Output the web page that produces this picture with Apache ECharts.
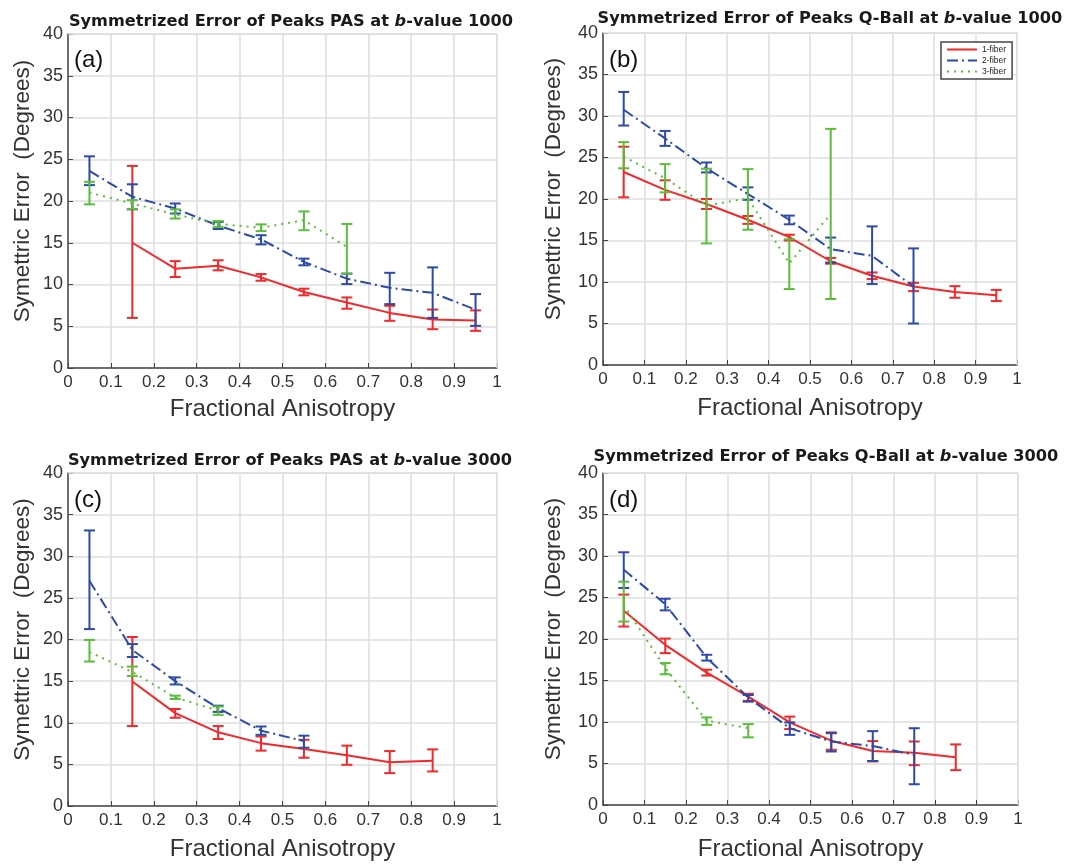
<!DOCTYPE html>
<html>
<head>
<meta charset="utf-8">
<script src="https://cdn.jsdelivr.net/npm/echarts@6/dist/echarts.min.js"></script>
<style>html,body{margin:0;padding:0;background:#fff;}#c{width:1073px;height:864px;}</style>
</head>
<body>
<div id="c"></div>
<script>
// ---- Data ----
const faValues = [0.05, 0.15, 0.25, 0.35, 0.45, 0.55, 0.65, 0.75, 0.85, 0.95];
const xTicks = [0, 0.1, 0.2, 0.3, 0.4, 0.5, 0.6, 0.7, 0.8, 0.9, 1];
const yTicks = [0, 5, 10, 15, 20, 25, 30, 35, 40];
const seriesNames = ['1-fiber', '2-fiber', '3-fiber'];
const panelTitles = [
  ['Symmetrized Error of Peaks PAS at ', 'b', '-value 1000'],
  ['Symmetrized Error of Peaks Q-Ball at ', 'b', '-value 1000'],
  ['Symmetrized Error of Peaks PAS at ', 'b', '-value 3000'],
  ['Symmetrized Error of Peaks Q-Ball at ', 'b', '-value 3000']
];
const panelLetters = ['(a)', '(b)', '(c)', '(d)'];
const xAxisTitle = 'Fractional Anisotropy';
const yAxisTitle = 'Symettric Error  (Degrees)';

// each entry: [FA, mean, lower, upper]
// (a) PAS b=1000
const a1 = [[0.15,15.0,6.0,24.2],[0.25,11.9,10.9,12.8],[0.35,12.25,11.7,12.9],[0.45,10.85,10.45,11.25],[0.55,9.1,8.7,9.5],[0.65,7.85,7.1,8.45],[0.75,6.6,5.65,7.45],[0.85,5.8,4.65,7.0],[0.95,5.7,4.45,6.9]];
const a2 = [[0.05,23.6,21.9,25.35],[0.15,20.5,19.0,22.0],[0.25,19.1,18.5,19.7],[0.35,17.05,16.65,17.5],[0.45,15.4,14.8,15.9],[0.55,12.7,12.3,13.1],[0.65,10.7,10.05,11.3],[0.75,9.6,7.65,11.4],[0.85,9.0,6.0,12.05],[0.95,7.0,5.05,8.85]];
const a3 = [[0.05,21.0,19.6,22.3],[0.15,19.7,19.05,20.1],[0.25,18.4,17.9,19.0],[0.35,17.25,16.9,17.6],[0.45,16.8,16.4,17.2],[0.55,17.7,16.5,18.75],[0.65,14.5,11.3,17.25]];
// (b) Q-Ball b=1000
const b1 = [[0.05,23.25,20.2,26.3],[0.15,21.1,19.9,22.25],[0.25,19.4,18.8,20.0],[0.35,17.5,17.0,17.95],[0.45,15.4,15.0,15.7],[0.55,12.5,12.2,12.9],[0.65,10.75,10.35,11.15],[0.75,9.45,8.9,9.9],[0.85,8.8,8.1,9.5],[0.95,8.4,7.7,9.05]];
const b2 = [[0.05,30.75,28.85,32.9],[0.15,27.3,26.4,28.2],[0.25,23.7,23.2,24.4],[0.35,20.6,19.9,21.4],[0.45,17.5,16.95,18.0],[0.55,13.95,12.35,15.35],[0.65,13.15,9.75,16.7],[0.75,9.45,5.0,14.05]];
const b3 = [[0.05,25.1,23.7,26.85],[0.15,22.5,20.8,24.2],[0.25,19.2,14.65,23.65],[0.35,20.1,16.3,23.6],[0.45,12.25,9.15,15.15],[0.55,18.2,7.95,28.45]];
// (c) PAS b=3000
const c1 = [[0.15,14.95,9.6,20.3],[0.25,11.15,10.6,11.65],[0.35,8.85,8.05,9.6],[0.45,7.55,6.65,8.35],[0.55,6.85,5.8,7.95],[0.65,6.1,4.95,7.25],[0.75,5.25,3.95,6.6],[0.85,5.45,4.15,6.8]];
const c2 = [[0.05,27.05,21.25,33.1],[0.15,18.75,17.9,19.45],[0.25,15.0,14.6,15.45],[0.35,11.75,11.3,12.05],[0.45,9.05,8.55,9.55],[0.55,7.8,7.0,8.45]];
const c3 = [[0.05,18.5,17.35,19.95],[0.15,16.1,15.6,16.75],[0.25,13.05,12.85,13.25],[0.35,11.45,10.95,11.95]];
// (d) Q-Ball b=3000
const d1 = [[0.05,23.4,21.5,25.35],[0.15,19.3,18.3,20.05],[0.25,15.95,15.6,16.3],[0.35,13.05,12.55,13.4],[0.45,9.95,9.15,10.65],[0.55,7.75,6.65,8.75],[0.65,6.5,5.25,7.7],[0.75,6.3,4.8,7.65],[0.85,5.75,4.2,7.3]];
const d2 = [[0.05,28.35,26.15,30.45],[0.15,24.2,23.45,24.85],[0.25,17.75,17.4,18.1],[0.35,12.95,12.45,13.25],[0.45,9.25,8.45,9.95],[0.55,7.65,6.45,8.65],[0.65,7.1,5.3,8.9],[0.75,6.05,2.5,9.25]];
const d3 = [[0.05,24.1,22.1,26.9],[0.15,16.5,15.75,17.1],[0.25,10.15,9.65,10.55],[0.35,9.25,8.15,9.75]];

const panelData = [[a1,a2,a3],[b1,b2,b3],[c1,c2,c3],[d1,d2,d3]];

// ---- Styling / layout ----
const colors = ['#f2282a', '#2c4aa6', '#5cbd3c'];
const lineTypes = ['solid', [11, 4, 2, 4], [2, 5]];
const grids = [
  {left: 68, top: 34, width: 429, height: 334},
  {left: 603, top: 33, width: 414, height: 332},
  {left: 68, top: 473, width: 429, height: 333},
  {left: 603, top: 473, width: 415, height: 332}
];
const titlePos = [[286, 9], [825, 6], [285, 448], [821, 444]];
const letterPos = [[69, 43], [604, 43], [69, 483], [604, 483]];
const xNameGap = [29, 31, 31, 32];
const yNameGap = [34, 38, 34, 38];
const FONT = '"Liberation Sans", Arial, Helvetica, sans-serif';
const TFONT = '"DejaVu Sans", "Liberation Sans", Arial, sans-serif';

const option = {
  backgroundColor: '#fff',
  animation: false,
  title: [],
  grid: grids,
  xAxis: [],
  yAxis: [],
  series: [],
  legend: {
    data: seriesNames,
    left: 941, top: 42,
    orient: 'vertical',
    itemWidth: 30, itemHeight: 8, itemGap: 2,
    padding: [3, 6, 3, 5],
    borderColor: '#444', borderWidth: 1.5,
    backgroundColor: '#fff',
    itemStyle: {opacity: 0},
    textStyle: {fontSize: 8.5, color: '#222', fontFamily: FONT},
    selectedMode: false
  }
};

panelTitles.forEach((t, i) => {
  option.title.push({
    text: '{n|' + t[0] + '}{i|' + t[1] + '}{n|' + t[2] + '}',
    left: titlePos[i][0], top: titlePos[i][1], textAlign: 'center',
    textStyle: {
      rich: {
        n: {fontSize: 16.2, fontWeight: 'bold', color: '#1a1a1a', fontFamily: TFONT},
        i: {fontSize: 16.2, fontWeight: 'bold', fontStyle: 'italic', color: '#1a1a1a', fontFamily: TFONT}
      }
    }
  });
  option.title.push({
    text: panelLetters[i],
    left: letterPos[i][0], top: letterPos[i][1],
    textStyle: {fontSize: 24, fontWeight: 'normal', color: '#111', fontFamily: FONT}
  });
});

for (let i = 0; i < 4; i++) {
  option.xAxis.push({
    type: 'value', gridIndex: i, min: xTicks[0], max: xTicks[xTicks.length - 1], interval: 0.1,
    name: xAxisTitle, nameLocation: 'middle', nameGap: xNameGap[i],
    nameTextStyle: {fontSize: 24, color: '#333', fontFamily: FONT},
    axisLine: {show: true, lineStyle: {color: '#444', width: 1.5}},
    axisTick: {show: true, inside: true, length: 5, lineStyle: {color: '#444'}},
    axisLabel: {fontSize: 17, color: '#333', margin: 6, fontFamily: FONT,
      formatter: v => String(+v.toFixed(1))},
    splitLine: {show: true, lineStyle: {color: '#dedede', width: 1.5}}
  });
  option.yAxis.push({
    type: 'value', gridIndex: i, min: yTicks[0], max: yTicks[yTicks.length - 1], interval: 5,
    name: yAxisTitle, nameLocation: 'middle', nameGap: yNameGap[i],
    nameTextStyle: {fontSize: 22.5, color: '#333', fontFamily: FONT, padding: [0, 0, 0, 20]},
    axisLine: {show: true, lineStyle: {color: '#444', width: 1.5}},
    axisTick: {show: true, inside: true, length: 5, lineStyle: {color: '#444'}},
    axisLabel: {fontSize: 18, color: '#333', margin: 5, fontFamily: FONT},
    splitLine: {show: true, lineStyle: {color: '#dedede', width: 1.5}}
  });
  // right & top borders
  option.series.push({
    type: 'line', xAxisIndex: i, yAxisIndex: i, silent: true, symbol: 'none', data: [],
    markLine: {silent: true, symbol: 'none', label: {show: false},
      lineStyle: {color: '#dedede', width: 1.5, type: 'solid'},
      data: [{xAxis: 1}, {yAxis: 40}]}
  });
  panelData[i].forEach((arr, k) => {
    option.series.push({
      name: seriesNames[k], type: 'line', xAxisIndex: i, yAxisIndex: i,
      symbol: 'none', z: 3 + k,
      lineStyle: {color: colors[k], width: 2, type: lineTypes[k]},
      itemStyle: {color: colors[k]},
      data: arr.map(r => [r[0], r[1]])
    });
    option.series.push({
      type: 'custom', xAxisIndex: i, yAxisIndex: i, z: 3 + k,
      data: arr.map(r => [r[0], r[2], r[3]]),
      renderItem: (params, api) => {
        const x = api.value(0);
        const lo = api.coord([x, api.value(1)]);
        const hi = api.coord([x, api.value(2)]);
        const w = 5.5;
        const st = {stroke: colors[k], lineWidth: 2, fill: null};
        return {type: 'group', children: [
          {type: 'line', shape: {x1: lo[0], y1: lo[1], x2: hi[0], y2: hi[1]}, style: st},
          {type: 'line', shape: {x1: lo[0] - w, y1: lo[1], x2: lo[0] + w, y2: lo[1]}, style: st},
          {type: 'line', shape: {x1: hi[0] - w, y1: hi[1], x2: hi[0] + w, y2: hi[1]}, style: st}
        ]};
      }
    });
  });
}

const chart = echarts.init(document.getElementById('c'), null, {renderer: 'canvas'});
chart.setOption(option);
</script>
</body>
</html>
